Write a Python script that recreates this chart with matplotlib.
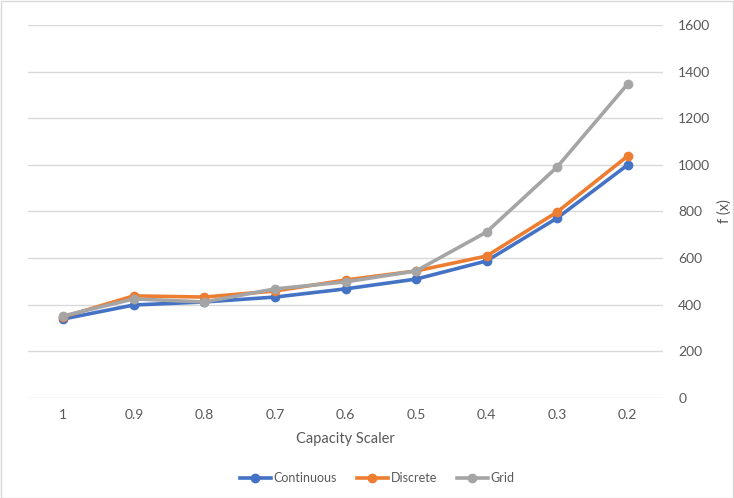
import matplotlib.pyplot as plt
import numpy as np

plt.rcParams['font.family'] = ['Lato', 'DejaVu Sans']

scaler = ['1', '0.9', '0.8', '0.7', '0.6', '0.5', '0.4', '0.3', '0.2']
continuous = [339, 399, 412, 433, 468, 510, 588, 772, 1000]
discrete = [348, 438, 433, 459, 506, 545, 609, 798, 1038]
grid = [352, 425, 412, 468, 498, 545, 712, 991, 1347]

text_col = '#595959'

fig = plt.figure(figsize=(7.34, 4.98), dpi=100)
ax = fig.add_axes([28 / 734, 1 - 398 / 498, (663 - 28) / 734, (398 - 25) / 498])

x = np.arange(len(scaler))
ax.plot(x, continuous, color='#4472C4', lw=2.6, marker='o', ms=6, label='Continuous')
ax.plot(x, discrete, color='#ED7D31', lw=2.6, marker='o', ms=6, label='Discrete')
ax.plot(x, grid, color='#A5A5A5', lw=2.6, marker='o', ms=6, label='Grid')

ax.set_xlim(-0.5, len(scaler) - 0.5)
ax.set_ylim(0, 1600)
ax.set_yticks(np.arange(0, 1601, 200))
ax.set_xticks(x)
ax.set_xticklabels(scaler)
ax.yaxis.tick_right()
ax.yaxis.set_label_position('right')
ax.grid(axis='y', color='#D9D9D9', lw=1)
ax.set_axisbelow(True)
for s in ax.spines.values():
    s.set_visible(False)
ax.tick_params(axis='both', length=0, colors=text_col, labelsize=10)
ax.tick_params(axis='y', pad=11)
ax.tick_params(axis='x', pad=8)

ax.set_xlabel('Capacity Scaler', color=text_col, fontsize=10.5, labelpad=8)
ax.set_ylabel('f (x)', color=text_col, fontsize=10.5)
ax.yaxis.set_label_coords(1.085, 0.5)

fig.legend(loc='center', bbox_to_anchor=(377 / 734, 1 - 478 / 498), ncol=3, frameon=False,
           fontsize=9, labelcolor=text_col, handlelength=2.5, columnspacing=1.6,
           handletextpad=0.2)

fig.patches.append(plt.Rectangle((0.001, 0.001), 0.997, 0.997, transform=fig.transFigure,
                                 fill=False, edgecolor='#D9D9D9', lw=1))

fig.savefig('out.png', dpi=100)
